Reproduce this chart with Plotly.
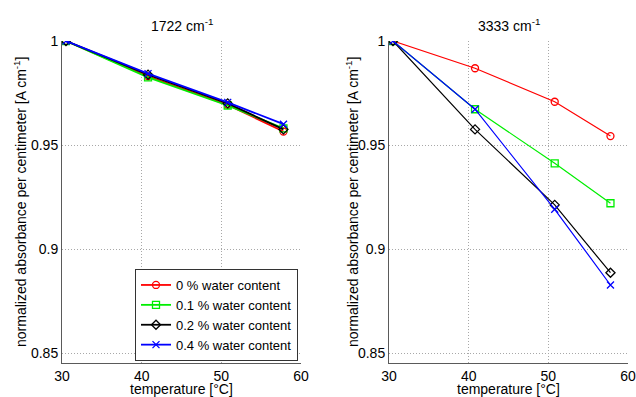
import plotly.graph_objects as go

temperature = [30.5, 40.8, 50.8, 57.8]

series_names = ["0 % water content", "0.1 % water content", "0.2 % water content", "0.4 % water content"]

band_1722 = {
    "0 % water content":   [1.0, 0.9830, 0.9693, 0.9565],
    "0.1 % water content": [1.0, 0.9825, 0.9690, 0.9580],
    "0.2 % water content": [1.0, 0.9838, 0.9700, 0.9575],
    "0.4 % water content": [1.0, 0.9843, 0.9705, 0.9600],
}
band_3333 = {
    "0 % water content":   [1.0, 0.9869, 0.9708, 0.9543],
    "0.1 % water content": [1.0, 0.9672, 0.9412, 0.9220],
    "0.2 % water content": [1.0, 0.9575, 0.9212, 0.8886],
    "0.4 % water content": [1.0, 0.9672, 0.9191, 0.8827],
}

x_ticks = [30, 40, 50, 60]
y_ticks = [0.85, 0.9, 0.95, 1.0]
y_ticklabels = ["0.85", "0.9", "0.95", "1"]

colors = ["#ff0000", "#00ee00", "#000000", "#0000ff"]
symbols = ["circle-open", "square-open", "diamond-open", "x-thin-open"]

FONT = "Liberation Sans, Arial, sans-serif"

fig = go.Figure()

for i, name in enumerate(series_names):
    fig.add_trace(go.Scatter(
        x=temperature, y=band_1722[name], name=name, mode="lines+markers",
        line=dict(color=colors[i], width=1.8),
        marker=dict(symbol=symbols[i], size=7, color=colors[i], line=dict(color=colors[i], width=1.3)),
        xaxis="x", yaxis="y", showlegend=True))
for i, name in enumerate(series_names):
    fig.add_trace(go.Scatter(
        x=temperature, y=band_3333[name], name=name, mode="lines+markers",
        line=dict(color=colors[i], width=1.2),
        marker=dict(symbol=symbols[i], size=7, color=colors[i], line=dict(color=colors[i], width=1.3)),
        xaxis="x2", yaxis="y2", showlegend=False))

W, H = 636, 397
l1, r1 = 62 / W, 301 / W
l2, r2 = 389 / W, 628 / W
b, t = 1 - 363 / H, 1 - 41 / H

xcommon = dict(range=[30, 60], tickvals=x_ticks, ticks="", showgrid=True, automargin=False,
               gridcolor="#a8a8a8", griddash="1px,2px", gridwidth=1,
               showline=True, linecolor="#5a5a5a", linewidth=1, zeroline=False,
               tickfont=dict(size=14, color="#000", family=FONT))
ycommon = dict(range=[0.8452, 1.0], tickvals=y_ticks, ticktext=y_ticklabels, ticks="",
               showgrid=True, gridcolor="#a8a8a8", griddash="1px,2px", gridwidth=1, automargin=False,
               showline=True, linecolor="#5a5a5a", linewidth=1, zeroline=False,
               tickfont=dict(size=14, color="#000", family=FONT))

fig.update_layout(
    width=W, height=H,
    margin=dict(l=0, r=0, t=0, b=0, autoexpand=False),
    paper_bgcolor="white", plot_bgcolor="white",
    font=dict(family=FONT, color="#000", size=13),
    xaxis=dict(domain=[l1, r1], anchor="y", **xcommon),
    yaxis=dict(domain=[b, t], anchor="x", **ycommon),
    xaxis2=dict(domain=[l2, r2], anchor="y2", **xcommon),
    yaxis2=dict(domain=[b, t], anchor="x2", **ycommon),
    legend=dict(x=298 / W, y=1 - 361 / H, xanchor="right", yanchor="bottom",
                bgcolor="white", bordercolor="#333", borderwidth=1,
                font=dict(size=13, family=FONT, color="#000"),
                tracegroupgap=0, itemwidth=30),
    showlegend=True,
)

annotations = [
    dict(text="1722 cm<sup>-1</sup>", x=(l1 + r1) / 2, y=1 - 25 / H),
    dict(text="3333 cm<sup>-1</sup>", x=(l2 + r2) / 2, y=1 - 25 / H),
    dict(text="temperature [°C]", x=(l1 + r1) / 2, y=1 - 389 / H),
    dict(text="temperature [°C]", x=(l2 + r2) / 2, y=1 - 389 / H),
    dict(text="normalized absorbance per centimeter [A cm<sup>-1</sup>]", x=20 / W, y=(b + t) / 2, textangle=-90),
    dict(text="normalized absorbance per centimeter [A cm<sup>-1</sup>]", x=352 / W, y=(b + t) / 2, textangle=-90),
]
for a in annotations:
    fig.add_annotation(xref="paper", yref="paper", showarrow=False,
                       xanchor="center", yanchor="middle",
                       font=dict(size=14, family=FONT, color="#000"), **a)

fig.write_html("out.html", config={"displayModeBar": False},
               post_script="document.body.style.margin='0';document.body.style.overflow='hidden';")
